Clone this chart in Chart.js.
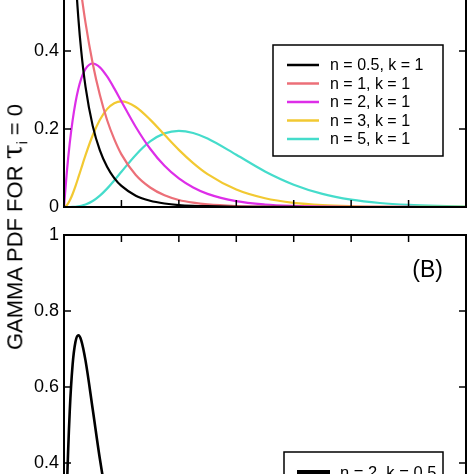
<!DOCTYPE html>
<html>
<head>
<meta charset="utf-8">
<script src="https://cdn.jsdelivr.net/npm/chart.js@4.4.1/dist/chart.umd.min.js"></script>
<style>
  html, body { margin: 0; padding: 0; background: #fff; }
  body {
    width: 474px; height: 474px; overflow: hidden; position: relative;
    font-family: "Liberation Sans", Arial, Helvetica, sans-serif;
  }
  canvas { position: absolute; left: 0; }
  #chartA { top: -40px; }
  #chartB { top: 220px; }
  #ylabel {
    position: absolute; left: 14px; top: 227px;
    transform: translate(-50%, -50%) rotate(-90deg);
    font-size: 22px; white-space: nowrap; color: #000;
  }
  #ylabel .tau { font-family: "DejaVu Serif", serif; font-size: 27px; }
  #ylabel sub { font-size: 14px; }
</style>
</head>
<body>
<canvas id="chartA" width="474" height="257"></canvas>
<canvas id="chartB" width="474" height="405"></canvas>
<div id="ylabel">GAMMA PDF FOR <span class="tau">τ</span><sub>i</sub> = 0</div>
<script>
// panel A: shape n, scale k = 1
const xTop = [0, 0.1, 0.2, 0.3, 0.4, 0.5, 0.6, 0.75, 1, 1.25, 1.5, 1.75, 2, 2.5, 3, 3.5, 4, 4.5, 5, 6, 7, 8, 9, 10, 11, 12, 13, 14];
const pdfN05 = [null, 1.614, 1.033, 0.763, 0.598, 0.484, 0.400, 0.308, 0.208, 0.145, 0.103, 0.074, 0.054, 0.029, 0.016, 0.009, 0.005, 0.003, 0.002, 0.0006, 0.0002, 0.0001, 0, 0, 0, 0, 0, 0];
const pdfN1 = [1, 0.905, 0.819, 0.741, 0.670, 0.607, 0.549, 0.472, 0.368, 0.287, 0.223, 0.174, 0.135, 0.082, 0.050, 0.030, 0.018, 0.011, 0.0067, 0.0025, 0.0009, 0.0003, 0.0001, 0, 0, 0, 0, 0];
const pdfN2 = [0, 0.0905, 0.1637, 0.2222, 0.2681, 0.3033, 0.3293, 0.3543, 0.3679, 0.3581, 0.3347, 0.3041, 0.2707, 0.2052, 0.1494, 0.1057, 0.0733, 0.0500, 0.0337, 0.0149, 0.0064, 0.0027, 0.0011, 0.0005, 0.0002, 0.0001, 0, 0];
const pdfN3 = [0, 0.0045, 0.0164, 0.0333, 0.0536, 0.0758, 0.0988, 0.1329, 0.1839, 0.2238, 0.2510, 0.2661, 0.2707, 0.2565, 0.2240, 0.1850, 0.1465, 0.1125, 0.0842, 0.0446, 0.0223, 0.0107, 0.0050, 0.0023, 0.0010, 0.0004, 0.0002, 0.0001];
const pdfN5 = [0, 0, 0.00005, 0.00025, 0.0007, 0.0016, 0.0030, 0.0062, 0.0153, 0.0291, 0.0471, 0.0679, 0.0902, 0.1336, 0.1680, 0.1888, 0.1954, 0.1898, 0.1755, 0.1339, 0.0912, 0.0573, 0.0337, 0.0189, 0.0102, 0.0053, 0.0027, 0.0013];
const labelsTop = ["n = 0.5, k = 1", "n = 1, k = 1", "n = 2, k = 1", "n = 3, k = 1", "n = 5, k = 1"];
const colorsTop = ["#000000", "#ec6f78", "#dd2ee8", "#f2c932", "#45dccb"];

// panel B
const xBot = [0, 0.1, 0.2, 0.3, 0.4, 0.5, 0.6, 0.75, 1, 1.25, 1.5, 1.75, 2, 2.5, 3, 4, 5, 6, 8, 10, 14];
const pdfN2K05 = [0, 0.3275, 0.5363, 0.6586, 0.7189, 0.7358, 0.7229, 0.6694, 0.5413, 0.4104, 0.2987, 0.2113, 0.1465, 0.0674, 0.0297, 0.0054, 0.0009, 0.0001, 0, 0, 0];
const labelsBot = ["n = 2, k = 0.5"];
const colorsBot = ["#000000"];

const fontFamily = '"Liberation Sans", Arial, Helvetica, sans-serif';

function toPoints(xs, ys) {
  return xs.map((x, i) => ({ x: x, y: ys[i] }));
}

// frame, inward ticks, boxed legend and panel tag
const panelDeco = {
  id: "panelDeco",
  afterDatasetsDraw(chart, args, opts) {
    const { ctx, chartArea: a, scales } = chart;
    const x = scales.x, y = scales.y;
    ctx.save();
    ctx.strokeStyle = "#000";
    ctx.lineWidth = 1.5;
    ctx.beginPath();
    x.ticks.forEach((t) => {
      const px = x.getPixelForValue(t.value);
      ctx.moveTo(px, a.bottom); ctx.lineTo(px, a.bottom - 7);
      ctx.moveTo(px, a.top); ctx.lineTo(px, a.top + 7);
    });
    y.ticks.forEach((t) => {
      const py = y.getPixelForValue(t.value);
      ctx.moveTo(a.left, py); ctx.lineTo(a.left + 7, py);
      ctx.moveTo(a.right, py); ctx.lineTo(a.right - 7, py);
    });
    ctx.stroke();
    ctx.lineWidth = 2;
    ctx.strokeRect(a.left, a.top, a.right - a.left, a.bottom - a.top);

    const L = opts.legend;
    ctx.fillStyle = "#fff";
    ctx.fillRect(L.x, L.y, L.w, L.h);
    ctx.lineWidth = 1.5;
    ctx.strokeStyle = "#000";
    ctx.strokeRect(L.x, L.y, L.w, L.h);
    ctx.font = L.font;
    ctx.textBaseline = "middle";
    ctx.textAlign = "left";
    chart.data.datasets.forEach((ds, i) => {
      const ry = L.row0 + i * L.rowH;
      ctx.strokeStyle = ds.borderColor;
      ctx.lineWidth = L.lineWidth;
      ctx.beginPath();
      ctx.moveTo(L.s0, ry); ctx.lineTo(L.s1, ry);
      ctx.stroke();
      ctx.fillStyle = "#000";
      ctx.fillText(ds.label, L.tx, ry + 1);
    });

    if (opts.tag) {
      ctx.font = opts.tag.font;
      ctx.textAlign = "right";
      ctx.textBaseline = "middle";
      ctx.fillStyle = "#000";
      ctx.fillText(opts.tag.text, opts.tag.x, opts.tag.y);
    }
    ctx.restore();
  }
};

function makeOptions(yMax, pad, deco) {
  return {
    responsive: false,
    animation: false,
    layout: { padding: pad },
    plugins: {
      legend: { display: false },
      tooltip: { enabled: false },
      panelDeco: deco
    },
    scales: {
      x: {
        type: "linear", min: 0, max: 14,
        ticks: { stepSize: 2, display: false },
        grid: { display: false, drawTicks: false },
        border: { display: false },
        afterFit: (s) => { s.height = 0; s.paddingLeft = 0; s.paddingRight = 0; }
      },
      y: {
        min: 0, max: yMax,
        ticks: {
          stepSize: 0.2, padding: 5, color: "#000",
          font: { family: fontFamily, size: 18 },
          callback: (v) => String(Number(v.toFixed(1)))
        },
        grid: { display: false, drawTicks: false },
        border: { display: false },
        afterFit: (s) => { s.width = 64; s.paddingTop = 0; s.paddingBottom = 0; }
      }
    }
  };
}

new Chart(document.getElementById("chartA").getContext("2d"), {
  type: "line",
  data: {
    datasets: [pdfN05, pdfN1, pdfN2, pdfN3, pdfN5].map((ys, i) => ({
      label: labelsTop[i],
      data: toPoints(xTop, ys),
      borderColor: colorsTop[i],
      borderWidth: 2.2,
      pointRadius: 0,
      cubicInterpolationMode: "monotone"
    }))
  },
  options: makeOptions(0.6, { top: 13, bottom: 10, left: 0, right: 8 }, {
    legend: {
      x: 273, y: 85, w: 170, h: 111, row0: 105, rowH: 18.5,
      s0: 287, s1: 319, tx: 330, lineWidth: 2.5,
      font: "16px " + fontFamily
    }
  }),
  plugins: [panelDeco]
});

new Chart(document.getElementById("chartB").getContext("2d"), {
  type: "line",
  data: {
    datasets: [pdfN2K05].map((ys, i) => ({
      label: labelsBot[i],
      data: toPoints(xBot, ys),
      borderColor: colorsBot[i],
      borderWidth: 2.6,
      pointRadius: 0,
      cubicInterpolationMode: "monotone"
    }))
  },
  options: makeOptions(1, { top: 15, bottom: 10, left: 0, right: 8 }, {
    legend: {
      x: 284, y: 232, w: 159, h: 110, row0: 252, rowH: 19,
      s0: 297, s1: 330, tx: 340, lineWidth: 4,
      font: "16.5px " + fontFamily
    },
    tag: { text: "(B)", x: 443, y: 51, font: "23px " + fontFamily }
  }),
  plugins: [panelDeco]
});
</script>
</body>
</html>
